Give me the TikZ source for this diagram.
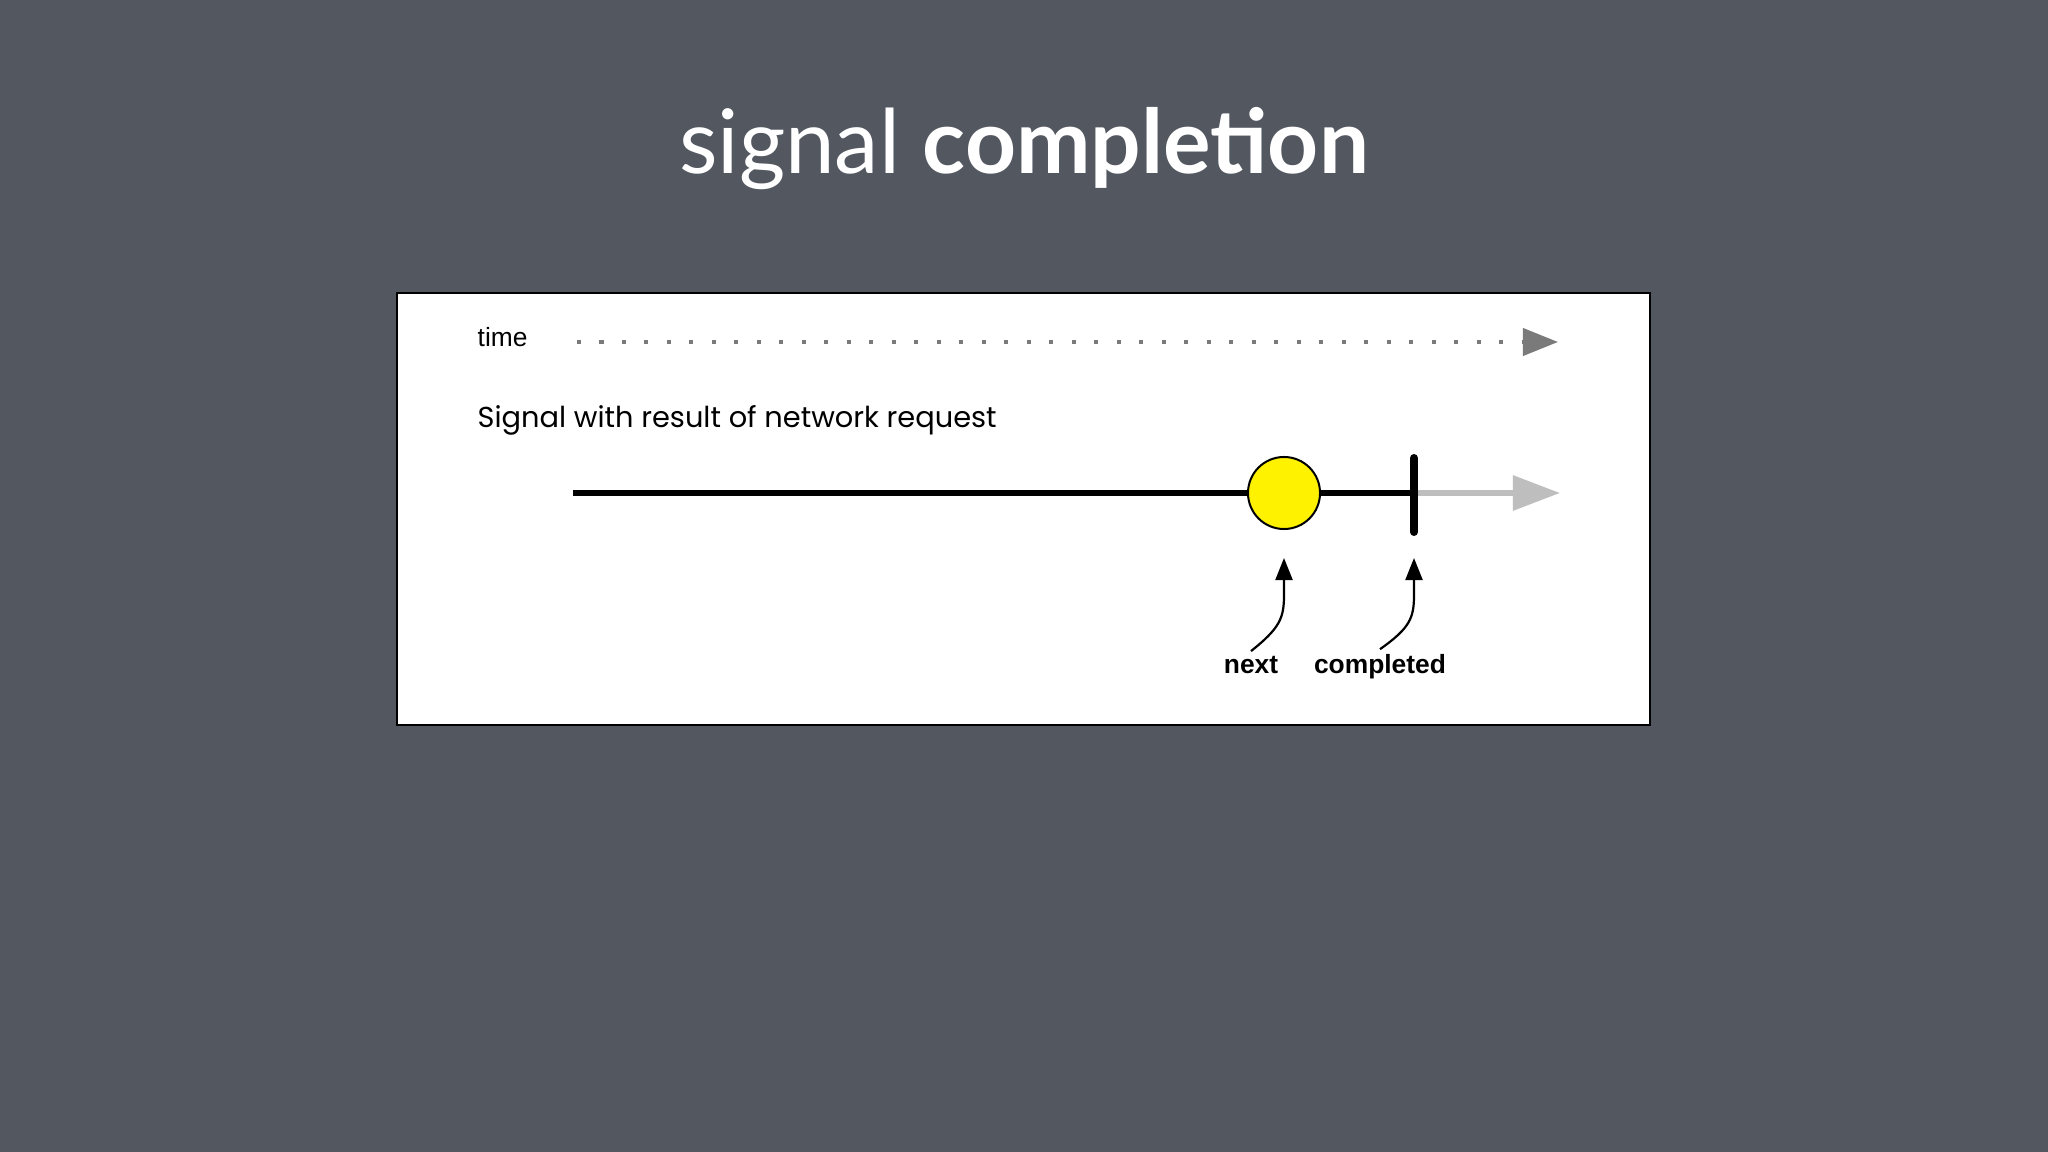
\documentclass[tikz,border=0pt]{standalone}
\usepackage{fontspec}
\usepackage{xcolor}
\usetikzlibrary{positioning,arrows.meta}
\setmainfont{Liberation Sans}
\newfontfamily\titlefont{Lato}
\newfontfamily\signalfont{Poppins}
\definecolor{slide}{RGB}{83,87,96}
\definecolor{axisgray}{RGB}{122,122,122}
\definecolor{futuregray}{RGB}{190,190,190}

\begin{document}
\begin{tikzpicture}[x=0.01cm, y=-0.01cm, title/.style={anchor=base, text=white, font=\titlefont\fontsize{25.3}{30}\selectfont}, panel/.style={draw=black, fill=white, line width=0.02cm, minimum width=12.53cm, minimum height=4.32cm, inner sep=0pt}, caption/.style={anchor=base west, inner sep=0pt}, evlabel/.style={anchor=base, font=\bfseries\fontsize{7.5}{9}\selectfont, inner sep=0.04cm}, signal/.style={line width=0.06cm}, pointer/.style={-{Triangle[length=0.22cm, width=0.17cm]}, line width=0.022cm}]
\fill[slide] (0,0) rectangle (2048,1152);
\node[title] (title) at (1024,174) {signal \textbf{completion}};
\node[panel] (panel) at (1023.5,509) {};
\node[caption, font=\fontsize{7.5}{9}\selectfont] (time) at (477,347) {time};
\node[caption, font=\signalfont\fontsize{8.2}{10}\selectfont] (name) at (477,428) {Signal with result of network request};
% time axis
\coordinate (tstart) at (577,342);
\coordinate (tend) at (1558,342);
\draw[axisgray, line width=0.04cm, dash pattern=on 0.04cm off 0.1848cm, -{Triangle[length=0.35cm, width=0.27cm]}] (tstart) -- (tend);
% the signal
\coordinate (sstart) at (573,493);
\coordinate (done) at (1414,493);
\coordinate (send) at (1560,493);
\draw[signal] (sstart) -- (done);
\draw[futuregray, line width=0.06cm, -{Triangle[length=0.47cm, width=0.34cm]}] (done) -- (send);
\node[circle, draw, fill=yellow, minimum size=0.72cm, line width=0.02cm] (nextev) at (1284,493) {};
\coordinate (donetop) at (1414,458);
\coordinate (donebot) at (1414,532);
\draw[line width=0.08cm, line cap=round] (donetop) -- (donebot);
% labels
\node[evlabel] (nextlbl) at (1251,673) {next};
\node[evlabel] (donelbl) at (1380,673) {completed};
\coordinate (nexttip) at (1284,558);
\coordinate (donetip) at (1414,558);
\draw[pointer] (nextlbl.north) .. controls (1280,628) and (1284,618) .. (1284,595) -- (nexttip);
\draw[pointer] (donelbl.north) .. controls (1410,628) and (1414,618) .. (1414,595) -- (donetip);
\end{tikzpicture}
\end{document}
